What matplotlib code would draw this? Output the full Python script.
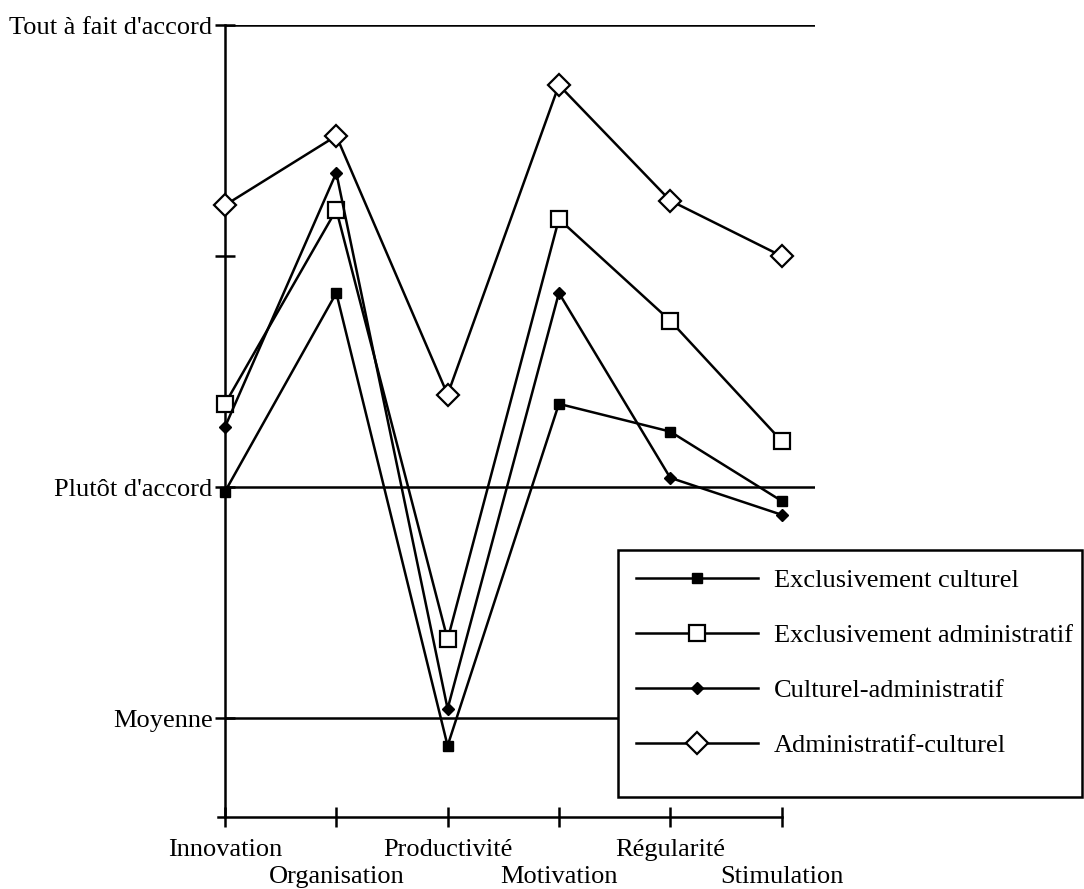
import numpy as np
import matplotlib
matplotlib.use('Agg')
import matplotlib.pyplot as plt
from matplotlib.patches import Rectangle

plt.rcParams['font.family'] = ['Liberation Serif', 'DejaVu Serif']

# categories along the bottom axis
categories = ['Innovation', 'Organisation', 'Productivité', 'Motivation', 'Régularité', 'Stimulation']

# scale: 2.5 = Moyenne, 3 = Plutôt d'accord, 4 = Tout à fait d'accord
excl_culturel = [2.99, 3.42, 2.44, 3.18, 3.12, 2.97]
excl_admin = [3.18, 3.60, 2.67, 3.58, 3.36, 3.10]
cult_admin = [3.13, 3.68, 2.52, 3.42, 3.02, 2.94]
admin_cult = [3.61, 3.76, 3.20, 3.87, 3.62, 3.50]

ytick_vals = [2.5, 3.0, 3.5, 4.0]
ytick_labels = ['Moyenne', "Plutôt d'accord", '', "Tout à fait d'accord"]

fig = plt.figure(figsize=(10.84, 8.89), dpi=100)
ax = fig.add_axes([225/1084, 72/889, 590/1084, 792/889])

x = np.arange(len(categories))
lw = 1.8
fs = 19

for yv in [2.5, 3.0, 4.0]:
    ax.axhline(yv, color='k', lw=lw, zorder=1)

ax.plot(x, excl_culturel, color='k', lw=lw, marker='s', ms=7, mfc='k', mec='k',
        label='Exclusivement culturel', clip_on=False, zorder=3)
ax.plot(x, excl_admin, color='k', lw=lw, marker='s', ms=11, mfc='white', mec='k', mew=1.6,
        label='Exclusivement administratif', clip_on=False, zorder=3)
ax.plot(x, cult_admin, color='k', lw=lw, marker='D', ms=6, mfc='k', mec='k',
        label='Culturel-administratif', clip_on=False, zorder=3)
ax.plot(x, admin_cult, color='k', lw=lw, marker='D', ms=11, mfc='white', mec='k', mew=1.6,
        label='Administratif-culturel', clip_on=False, zorder=3)

ax.set_xlim(0, 590/111.3)
ax.set_ylim(3 - 330/462, 4.0)

ax.spines['top'].set_visible(False)
ax.spines['right'].set_visible(False)
ax.spines['left'].set_linewidth(lw)
ax.spines['bottom'].set_linewidth(lw)
ax.spines['bottom'].set_bounds(-0.06, 5)

# staggered category labels: even ones on the major ticks, odd ones one row lower
ax.set_xticks(x[::2])
ax.set_xticklabels(categories[::2], fontsize=fs)
ax.set_xticks(x[1::2], minor=True)
ax.set_xticklabels(categories[1::2], minor=True, fontsize=fs)
ax.set_yticks(ytick_vals)
ax.set_yticklabels(ytick_labels, fontsize=fs)
ax.tick_params(axis='both', which='both', direction='inout', length=14, width=lw, color='k')
ax.tick_params(axis='x', which='major', pad=9)
ax.tick_params(axis='x', which='minor', pad=28)
ax.tick_params(axis='y', pad=2)

# legend box drawn by hand to get the reference's padding
fig.patches.append(Rectangle((618/1084, 1 - 797/889), 464/1084, 247/889, transform=fig.transFigure,
                             facecolor='white', edgecolor='k', lw=lw, zorder=4))
leg = fig.legend(loc='upper left', bbox_to_anchor=(618/1084, 1 - 550/889), borderaxespad=0,
                 fontsize=fs, numpoints=1, handlelength=4.6, handletextpad=0.6,
                 labelspacing=1.2, borderpad=0.7, frameon=False)
leg.set_zorder(5)

fig.savefig('out.png', dpi=100)
